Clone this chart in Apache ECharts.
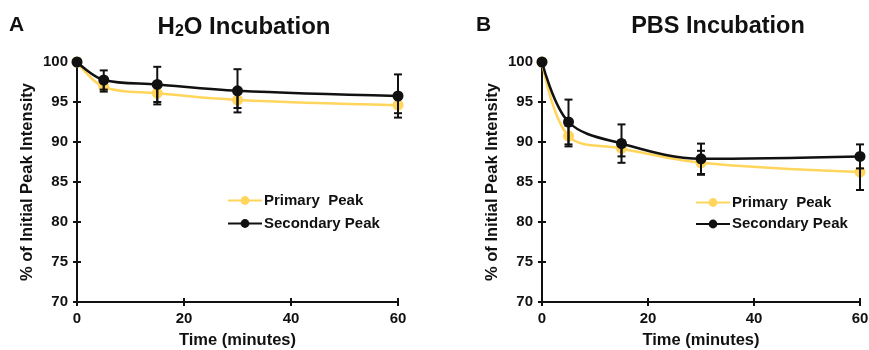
<!DOCTYPE html>
<html>
<head>
<meta charset="utf-8">
<script src="https://cdn.jsdelivr.net/npm/echarts@6/dist/echarts.min.js"></script>
<style>
  html, body { margin: 0; padding: 0; background: #fff; }
  #chart { width: 869px; height: 350px; }
</style>
</head>
<body>
<div id="chart"></div>
<script>
// Sampling times (minutes)
const times = [0, 5, 15, 30, 60];

// H2O incubation: mean % of initial peak intensity and error
const h2oPrimary = [100, 96.9, 96.1, 95.25, 94.6];
const h2oPrimaryErr = [0, 0.6, 1.4, 1.0, 1.0];
const h2oSecondary = [100, 97.75, 97.2, 96.4, 95.75];
const h2oSecondaryErr = [0, 1.2, 2.2, 2.7, 2.7];

// PBS incubation
const pbsPrimary = [100, 90.75, 89.2, 87.4, 86.25];
const pbsPrimaryErr = [0, 1.3, 1.0, 1.5, 2.25];
const pbsSecondary = [100, 92.5, 89.8, 87.9, 88.2];
const pbsSecondaryErr = [0, 2.8, 2.4, 1.9, 1.5];

const yTicks = [70, 75, 80, 85, 90, 95, 100];
const xTicks = [0, 20, 40, 60];

const FONT = '"Liberation Sans", Arial, sans-serif';
const YELLOW = '#FFD55C';
const BLACK = '#111111';

const pairs = (vals) => times.map((t, i) => [t, vals[i]]);
const errRows = (vals, errs) => times.map((t, i) => [t, vals[i] - errs[i], vals[i] + errs[i]]);

function errorBars(gridIdx, vals, errs, z) {
  return {
    type: 'custom',
    xAxisIndex: gridIdx * 2,
    yAxisIndex: gridIdx * 2,
    z: z,
    silent: true,
    data: errRows(vals, errs).filter(r => r[2] > r[1]),
    renderItem: function (params, api) {
      const lo = api.coord([api.value(0), api.value(1)]);
      const hi = api.coord([api.value(0), api.value(2)]);
      const w = 4;
      const st = { stroke: BLACK, lineWidth: 2 };
      return {
        type: 'group',
        children: [
          { type: 'line', shape: { x1: lo[0], y1: lo[1], x2: hi[0], y2: hi[1] }, style: st },
          { type: 'line', shape: { x1: lo[0] - w, y1: lo[1], x2: lo[0] + w, y2: lo[1] }, style: st },
          { type: 'line', shape: { x1: hi[0] - w, y1: hi[1], x2: hi[0] + w, y2: hi[1] }, style: st }
        ]
      };
    }
  };
}

function lineSeries(gridIdx, name, vals, color, z) {
  return {
    type: 'line',
    name: name,
    xAxisIndex: gridIdx * 2,
    yAxisIndex: gridIdx * 2,
    data: pairs(vals),
    smooth: 0.35,
    symbol: 'circle',
    symbolSize: 11,
    z: z,
    lineStyle: { color: color, width: 2.5 },
    itemStyle: { color: color },
    emphasis: { disabled: true }
  };
}

const axisLine = { show: true, lineStyle: { color: BLACK, width: 2 } };
const labelStyle = { color: BLACK, fontFamily: FONT, fontWeight: 'bold', fontSize: 15 };
const nameStyle = { color: BLACK, fontFamily: FONT, fontWeight: 'bold', fontSize: 16.5 };
const tickStyle = { color: BLACK, width: 2 };

function xAxes(gridIdx) {
  const base = {
    type: 'value', gridIndex: gridIdx, min: 0, max: 60, interval: 20,
    position: 'bottom', offset: 0,
    splitLine: { show: false }
  };
  return [
    Object.assign({}, base, {
      axisLine: axisLine,
      axisTick: { show: true, length: 4, lineStyle: tickStyle },
      axisLabel: Object.assign({ margin: 9 }, labelStyle),
      name: 'Time (minutes)', nameLocation: 'middle', nameGap: 30, nameTextStyle: nameStyle
    }),
    Object.assign({}, base, {
      axisLine: { show: false },
      axisTick: { show: true, inside: true, length: 4, lineStyle: tickStyle },
      axisLabel: { show: false }
    })
  ];
}

function yAxes(gridIdx) {
  const base = {
    type: 'value', gridIndex: gridIdx, min: 70, max: 100, interval: 5,
    position: 'left', offset: 0,
    splitLine: { show: false }
  };
  return [
    Object.assign({}, base, {
      axisLine: axisLine,
      axisTick: { show: true, length: 4, lineStyle: tickStyle },
      axisLabel: Object.assign({ margin: 9 }, labelStyle),
      name: '% of Initial Peak Intensity', nameLocation: 'middle', nameRotate: 90,
      nameGap: 41, nameTextStyle: nameStyle
    }),
    Object.assign({}, base, {
      axisLine: { show: false },
      axisTick: { show: true, inside: true, length: 4, lineStyle: tickStyle },
      axisLabel: { show: false }
    })
  ];
}

function legend(left, top, gap) {
  return {
    left: left, top: top, orient: 'vertical', itemGap: gap,
    itemWidth: 34, itemHeight: 11,
    data: ['Primary  Peak', 'Secondary Peak'],
    textStyle: { color: BLACK, fontFamily: FONT, fontWeight: 'bold', fontSize: 15, padding: [0, 0, 0, -3] },
    selectedMode: false
  };
}

const titleRich = {
  h: { fontFamily: FONT, fontWeight: 'bold', fontSize: 24, color: BLACK },
  sub: { fontFamily: FONT, fontWeight: 'bold', fontSize: 16, color: BLACK, verticalAlign: 'bottom', padding: [9, 0, 0, 0] }
};

const chart = echarts.init(document.getElementById('chart'), null, { renderer: 'canvas' });
chart.setOption({
  animation: false,
  backgroundColor: '#fff',
  title: [
    { text: 'A', left: 4, top: 10, textStyle: { fontFamily: FONT, fontWeight: 'bold', fontSize: 21, color: BLACK } },
    { text: '{h|H}{sub|2}{h|O Incubation}', left: 239, top: 10, textAlign: 'center', textStyle: { rich: titleRich } },
    { text: 'B', left: 471, top: 10, textStyle: { fontFamily: FONT, fontWeight: 'bold', fontSize: 21, color: BLACK } },
    { text: 'PBS Incubation', left: 713, top: 10, textAlign: 'center', textStyle: { fontFamily: FONT, fontWeight: 'bold', fontSize: 23.5, color: BLACK } }
  ],
  legend: [legend(222, 188, 8), legend(690, 190, 6.5)],
  grid: [
    { left: 77, right: 471, top: 62, bottom: 48, outerBoundsMode: 'none' },
    { left: 542, right: 9, top: 62, bottom: 48, outerBoundsMode: 'none' }
  ],
  xAxis: xAxes(0).concat(xAxes(1)),
  yAxis: yAxes(0).concat(yAxes(1)),
  series: [
    lineSeries(0, 'Primary  Peak', h2oPrimary, YELLOW, 2),
    errorBars(0, h2oPrimary, h2oPrimaryErr, 3),
    lineSeries(0, 'Secondary Peak', h2oSecondary, BLACK, 4),
    errorBars(0, h2oSecondary, h2oSecondaryErr, 5),
    lineSeries(1, 'Primary  Peak', pbsPrimary, YELLOW, 2),
    errorBars(1, pbsPrimary, pbsPrimaryErr, 3),
    lineSeries(1, 'Secondary Peak', pbsSecondary, BLACK, 4),
    errorBars(1, pbsSecondary, pbsSecondaryErr, 5)
  ]
});
</script>
</body>
</html>
